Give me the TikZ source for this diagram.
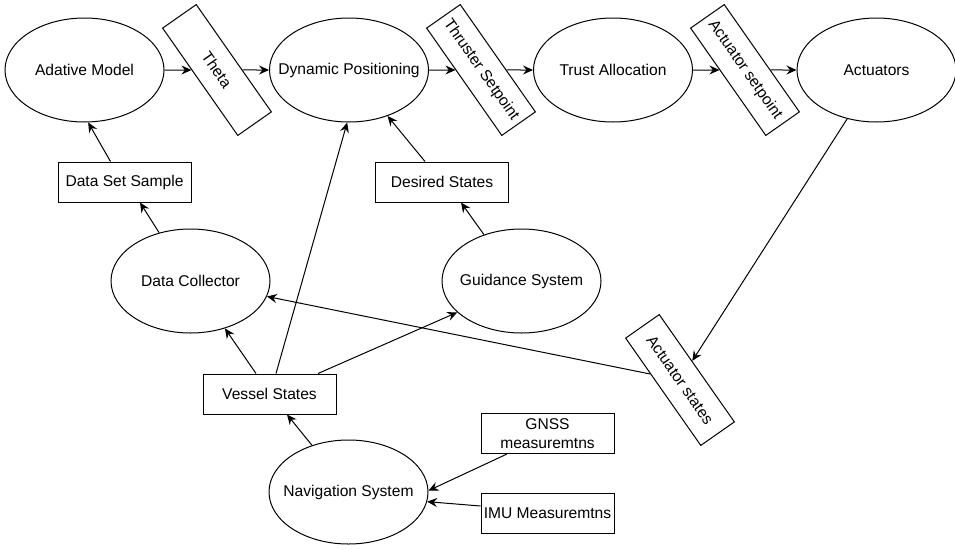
\documentclass[tikz,border=0pt]{standalone}
\usepackage{fontspec}
\setmainfont{Liberation Sans}
\usetikzlibrary{shapes.geometric,arrows.meta,calc}
% centred label of zero width, so the ellipse keeps its set size
\newcommand{\ctext}[1]{\makebox[0pt][c]{#1}}
\begin{document}
\begin{tikzpicture}[x=1pt,y=1pt,
  base/.style={draw=black, line width=1pt, fill=white,
    font=\fontsize{15.6}{18.7}\selectfont, inner sep=0pt},
  proc/.style={base, ellipse, minimum width=159pt, minimum height=104pt},
  datum/.style={base, rectangle, minimum width=133pt, minimum height=40pt, align=center},
  tilted/.style={base, rectangle, minimum width=131pt, minimum height=41pt, rotate=-55},
  flow/.style={draw=black, line width=1pt,
    -{Stealth[length=10pt,width=9pt,inset=3.5pt]}}]
\useasboundingbox (0,0) rectangle (955,-549);

% top chain
\node[proc]   (am)    at (84.5,-70)  {\ctext{Adative Model}};
\node[tilted] (theta) at (217,-70)   {Theta};
\node[proc]   (dp)    at (349,-70)   {\ctext{Dynamic Positioning}};
\node[tilted] (ts)    at (481,-70)   {Thruster Setpoint};
\node[proc]   (ta)    at (613,-70)   {\ctext{Trust Allocation}};
\node[tilted] (as)    at (745,-70)   {Actuator setpoint};
\node[proc]   (act)   at (876.5,-70) {\ctext{Actuators}};

% middle and lower parts
\node[datum]  (dss)  at (124.5,-182) {Data Set Sample};
\node[datum]  (ds)   at (442,-182)   {Desired States};
\node[proc]   (dc)   at (190.5,-281) {\ctext{Data Collector}};
\node[proc]   (gs)   at (521.5,-281) {\ctext{Guidance System}};
\node[tilted] (ast)  at (680,-380)   {Actuator states};
\node[datum]  (vs)   at (269.5,-394) {Vessel States};
\node[datum]  (gnss) at (547.5,-433.5) {GNSS\\measuremtns};
\node[datum]  (imu)  at (547.5,-513) {IMU Measuremtns};
\node[proc]   (nav)  at (348.5,-492) {\ctext{Navigation System}};

% connectors along the top
\draw[flow] (am) -- (theta);
\draw[flow] (theta) -- (dp);
\draw[flow] (dp) -- (ts);
\draw[flow] (ts) -- (ta);
\draw[flow] (ta) -- (as);
\draw[flow] (as) -- (act);

% feedback from the actuators
\draw[flow] (act.239) -- (ast);
\draw[flow] (ast) -- (dc);

% data collection path
\draw[flow] (dc.123.6) -- ($(dss.south)+(15.5,0)$);
\draw[flow] ($(dss.north)+(-14,0)$) -- (am.-86);

% guidance path
\draw[flow] (gs.129.8) -- ($(ds.south)+(19,0)$);
\draw[flow] ($(ds.north)+(-17,0)$) -- (dp.-50);

% vessel states distribution
\draw[flow] ($(vs.north)+(-13.5,0)$) -- (dc.-54);
\draw[flow] ($(vs.north)+(6.5,0)$) -- (dp.-92);
\draw[flow] ($(vs.north)+(48.5,0)$) -- (gs.206);

% navigation
\draw[flow] (nav.128.4) -- ($(vs.south)+(17.5,0)$);
\draw[flow] ($(gnss.south)+(-40.5,0)$) -- (nav.1);
\draw[flow] ($(imu.west)+(0,7)$) -- (nav.-7);
\end{tikzpicture}
\end{document}
